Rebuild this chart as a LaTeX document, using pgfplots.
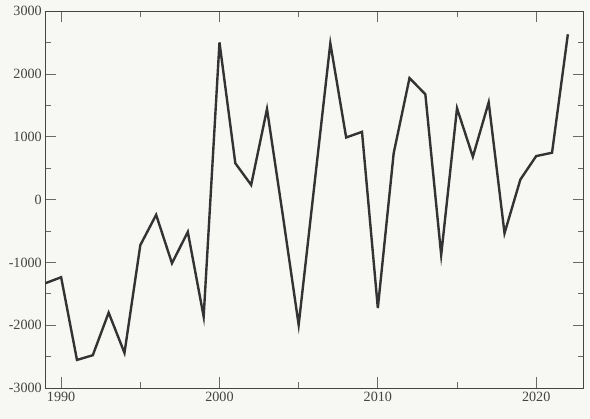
\documentclass[border=0pt]{standalone}
\usepackage{pgfplots}
\pgfplotsset{compat=1.18}
\usepackage{fontspec}
\setmainfont{Liberation Serif}
\usetikzlibrary{backgrounds}
\definecolor{bg}{HTML}{F7F8F3}
\definecolor{txt}{HTML}{444444}
\definecolor{ln}{HTML}{333333}
\definecolor{fr}{HTML}{444444}
\begin{document}
\begin{tikzpicture}
\begin{axis}[
  name=ax,
  scale only axis,
  width=538.4bp, height=376.7bp,
  xmin=1989, xmax=2023, ymin=-3000, ymax=3000,
  xtick={1990,2000,2010,2020},
  minor xtick={1995,2005,2015},
  ytick={-3000,-2000,-1000,0,1000,2000,3000},
  minor ytick={-2500,-1500,-500,500,1500,2500},
  tick align=inside,
  major tick length=11bp,
  minor tick length=5.5bp,
  every tick/.style={color=fr!80, line width=0.8pt},
  axis line style={color=fr, line width=0.9pt},
  tick label style={font=\fontsize{14.2}{16}\selectfont, text=txt},
  /pgf/number format/assume math mode=true,
  /pgf/number format/1000 sep={},
  xticklabel style={yshift=-1bp},
  yticklabel style={xshift=0bp},
  axis background/.style={fill=bg},
]
\addplot[color=ln, line width=2.4pt, line join=miter, mark=none] coordinates {
(1989,-1332) (1990,-1236) (1991,-2553) (1992,-2478) (1993,-1800)
(1994,-2441) (1995,-725) (1996,-242) (1997,-1013) (1998,-514)
(1999,-1863) (2000,2505) (2001,580) (2002,234) (2003,1444)
(2004,-250) (2005,-1995) (2006,250) (2007,2490) (2008,990)
(2009,1080) (2010,-1728) (2011,739) (2012,1937) (2013,1678)
(2014,-881) (2015,1455) (2016,683) (2017,1550) (2018,-535)
(2019,320) (2020,694) (2021,747) (2022,2634)
};
\end{axis}
\begin{scope}[on background layer]
\fill[bg] ([xshift=-45.3bp,yshift=-31bp]ax.south west) rectangle ([xshift=6.3bp,yshift=11.3bp]ax.north east);
\end{scope}
\pgfresetboundingbox
\path ([xshift=-45.3bp,yshift=-31bp]ax.south west) rectangle ([xshift=6.3bp,yshift=11.3bp]ax.north east);
\end{tikzpicture}
\end{document}
